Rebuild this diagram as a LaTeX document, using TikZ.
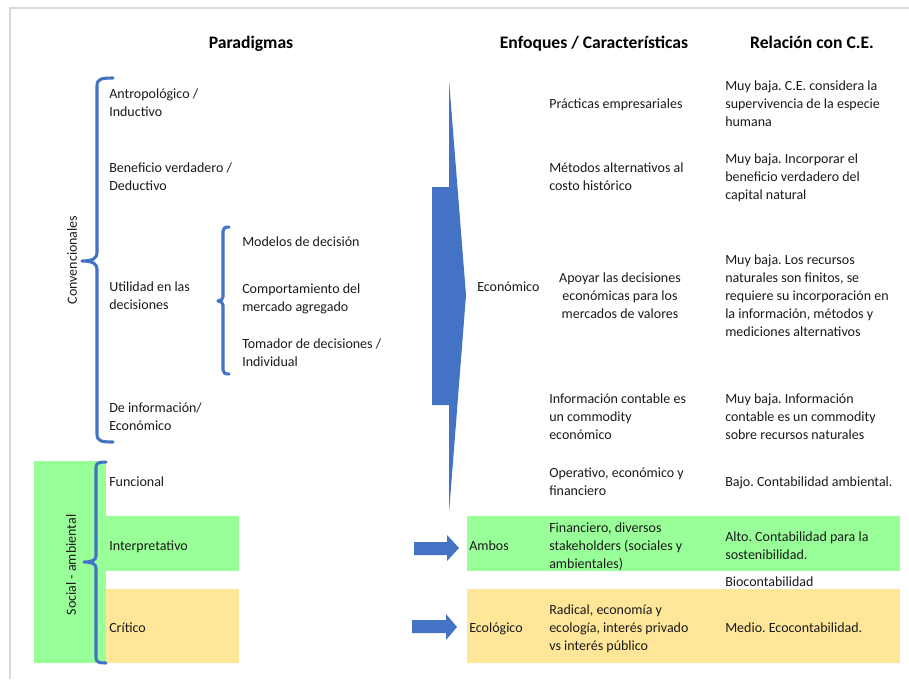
\documentclass[tikz,border=0pt]{standalone}
\usepackage{fontspec}
\setmainfont{Carlito}
\frenchspacing
\definecolor{bandgreen}{HTML}{99FF99}
\definecolor{bandorange}{HTML}{FFE699}
\definecolor{arrowblue}{HTML}{4472C4}
\definecolor{framegray}{HTML}{D9D9D9}
\definecolor{inktext}{HTML}{1A1A1A}
% multi-line nodes are placed by the baseline of their last line
\tikzset{
  txt/.style={font=\fontsize{10.5}{13.5}\selectfont, text=inktext, inner sep=0pt, anchor=base west, align=left},
  ctxt/.style={txt, anchor=base, align=center},
  head/.style={font=\fontsize{13.2}{15}\selectfont\bfseries, text=black, inner sep=0pt, anchor=base},
  vlabel/.style={font=\fontsize{10.5}{13.5}\selectfont, text=inktext, inner sep=0pt, rotate=90},
  brace/.style={draw=arrowblue, line width=2.3pt, line cap=round, line join=round},
  bluefill/.style={fill=arrowblue, draw=none},
}
\begin{document}
\begin{tikzpicture}[x=0.75pt, y=-0.75pt]
\useasboundingbox (0,0) rectangle (909,679);

% outer frame (top and left edges)
\draw[framegray, line width=0.8pt] (909,8) -- (10,8) -- (10,679);

% coloured bands
\fill[bandgreen] (34,461) rectangle (106,663);
\fill[bandgreen] (106,516) rectangle (239,571);
\fill[bandorange] (106,589) rectangle (239,663);
\fill[bandgreen] (467,516) rectangle (900,571);
\fill[bandorange] (467,589) rectangle (900,663);

% column headings
\node[head] (hpar) at (251,48) {Paradigmas};
\node[head] (henf) at (594,48) {Enfoques / Características};
\node[head] (hrel) at (812,48) {Relación con C.E.};

% braces
\draw[brace] (113,78) .. controls (101,78) and (97,79) .. (97,86) -- (97,253)
  .. controls (97,258) and (93,261) .. (82,261)
  .. controls (93,261) and (97,264) .. (97,269) -- (97,434)
  .. controls (97,441) and (101,442) .. (113,442);
\draw[brace] (229,227) .. controls (225,227) and (223,228) .. (223,231) -- (223,297)
  .. controls (223,299) and (221,301) .. (218,301)
  .. controls (221,301) and (223,303) .. (223,305) -- (223,370)
  .. controls (223,373) and (225,374) .. (229,374);
\draw[brace] (106,462) .. controls (99,462) and (96,463) .. (96,467) -- (96,556)
  .. controls (96,560) and (92,562) .. (84,562)
  .. controls (92,562) and (96,564) .. (96,568) -- (96,658)
  .. controls (96,662) and (99,663) .. (106,663);

% group labels
\node[vlabel] (conv) at (72,260) {Convencionales};
\node[vlabel] (socamb) at (71,565) {Social - ambiental};

% paradigms
\node[txt] (antro) at (109,116) {Antropológico /\\Inductivo};
\node[txt] (benef) at (109,190) {Beneficio verdadero /\\Deductivo};
\node[txt] (util) at (109,309) {Utilidad en las\\decisiones};
\node[txt] (info) at (109,430) {De información/\\Económico};
\node[txt] (func) at (109,486) {Funcional};
\node[txt] (interp) at (109,550) {Interpretativo};
\node[txt] (crit) at (109,632) {Crítico};
\node[txt] (model) at (242,246) {Modelos de decisión};
\node[txt] (compor) at (242,311) {Comportamiento del\\mercado agregado};
\node[txt] (tomad) at (242,366) {Tomador de decisiones /\\Individual};

% large block arrow towards the economic approach
\fill[bluefill] (432,187) -- (449,187) -- (449,80) -- (466,295) -- (449,513)
  -- (449,405) -- (432,405) -- cycle;

% small arrows
\fill[bluefill] (414,542) -- (447,542) -- (447,535) -- (459,548) -- (447,561)
  -- (447,555) -- (414,555) -- cycle;
\fill[bluefill] (412,620) -- (446,620) -- (446,614) -- (457,627) -- (446,640)
  -- (446,633) -- (412,633) -- cycle;

% approaches
\node[txt] (econ) at (477,291) {Económico};
\node[txt] (ambos) at (469,550) {Ambos};
\node[txt] (ecol) at (469,632) {Ecológico};

% characteristics
\node[txt] (prac) at (549,108) {Prácticas empresariales};
\node[txt] (metod) at (549,190) {Métodos alternativos al\\costo histórico};
\node[ctxt] (apoy) at (620,318) {Apoyar las decisiones\\económicas para los\\mercados de valores};
\node[txt] (infcont) at (549,439) {Información contable es\\un commodity\\económico};
\node[txt] (oper) at (549,495) {Operativo, económico y\\financiero};
\node[txt] (finan) at (549,568) {Financiero, diversos\\stakeholders (sociales y\\ambientales)};
\node[txt] (radic) at (549,650) {Radical, economía y\\ecología, interés privado\\vs interés público};

% relation with C.E.
\node[txt] (r1) at (725,126) {Muy baja. C.E. considera la\\supervivencia de la especie\\humana};
\node[txt] (r2) at (725,199) {Muy baja. Incorporar el\\beneficio verdadero del\\capital natural};
\node[txt] (r3) at (725,336) {Muy baja. Los recursos\\naturales son finitos, se\\requiere su incorporación en\\la información, métodos y\\mediciones alternativos};
\node[txt] (r4) at (725,439) {Muy baja. Información\\contable es un commodity\\sobre recursos naturales};
\node[txt] (r5) at (725,486) {Bajo. Contabilidad ambiental.};
\node[txt] (r6) at (725,559) {Alto. Contabilidad para la\\sostenibilidad.};
\node[txt] (r7) at (725,586) {Biocontabilidad};
\node[txt] (r8) at (725,632) {Medio. Ecocontabilidad.};
\end{tikzpicture}
\end{document}
